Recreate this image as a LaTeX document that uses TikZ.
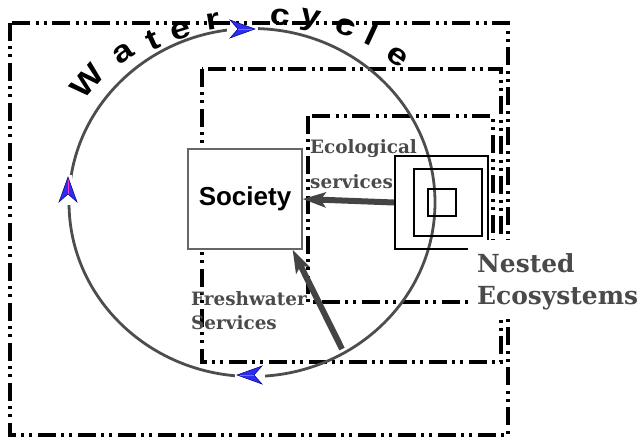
\documentclass[tikz,border=0pt]{standalone}
\usepackage{fontspec}
\usetikzlibrary{arrows.meta}
\newfontfamily\wcfont{Liberation Sans}
\newfontfamily\wcwide{Liberation Sans}[FakeStretch=1.2]
\newfontfamily\lblfont{DejaVu Serif}
\definecolor{lblgray}{HTML}{4A4A4A}
\definecolor{arrgray}{HTML}{444444}
\definecolor{cycgray}{HTML}{4D4D4D}
\definecolor{cycblue}{HTML}{2E2EF0}
\definecolor{cycmag}{HTML}{FF33CC}
\definecolor{boxgray}{HTML}{666666}
\tikzset{
  dashframe/.style={draw=black, line width=3.2pt, dash pattern=on 18pt off 5pt on 3pt off 5pt on 3pt off 6pt},
  wcletter/.style={font=\wcwide\bfseries\fontsize{30}{30}\selectfont, inner sep=0pt},
  lbl/.style={font=\lblfont\bfseries\fontsize{18.4}{24}\selectfont, text=lblgray, inner sep=0pt, align=left},
  bigarrow/.style={line width=6pt, draw=arrgray, -{Stealth[length=23pt,width=15pt,inset=5pt]}},
  sq/.style={draw, line width=2.2pt, inner sep=0pt},
  cyclearrow/.pic={
    \fill[white] (-28pt,-3.5pt) rectangle (2.5pt,3.5pt);
    \filldraw[fill=cycblue, draw=blue!50!black, line width=0.5pt]
      (0,0) -- (-25pt,-9pt) -- (-17pt,0) -- (-25pt,9pt) -- cycle;
    \draw[cycmag, line width=0.8pt] (-17pt,0) -- (-3pt,0);
  }
}
\begin{document}
\begin{tikzpicture}[x=1pt,y=-1pt]
\useasboundingbox (0,0) rectangle (639,441);
% dash-dot frames
\draw[dashframe] (10,23) rectangle (508,435);
\draw[dashframe] (202,69) rectangle (501,362);
\draw[dashframe] (308,116) rectangle (493,302);
% water cycle
\draw[cycgray, line width=2.8pt] (252,202.5) ellipse [x radius=183pt, y radius=174pt];
\pic at (255,29) {cyclearrow};
\pic[rotate=90] at (68,177) {cyclearrow};
\pic[rotate=180] at (237,375) {cyclearrow};
% letters
\node[wcletter, rotate=48] (wc1) at (87,81) {W};
\node[wcletter, rotate=34] (wc2) at (123,53) {a};
\node[wcletter, rotate=25] (wc3) at (153,40) {t};
\node[wcletter, rotate=17] (wc4) at (181,31) {e};
\node[wcletter, rotate=9] (wc5) at (213,21) {r};
\node[wcletter, rotate=-4] (wc6) at (280,17) {c};
\node[wcletter, rotate=-11] (wc7) at (310,21) {y};
\node[wcletter, rotate=-19] (wc8) at (346,27) {c};
\node[wcletter, rotate=-25] (wc9) at (372,35) {l};
\node[wcletter, rotate=-35] (wc10) at (397,57) {e};
% society
\node[draw=boxgray, line width=1.2pt, fill=white, minimum width=114pt, minimum height=100pt,
      inner sep=0pt, font=\wcfont\bfseries\fontsize{26}{26}\selectfont] (soc) at (245,199) {Society};
% nested ecosystems squares
\node[sq, minimum width=93pt, minimum height=93pt] (eco3) at (441.5,202.5) {};
\node[sq, minimum width=68pt, minimum height=67pt] (eco2) at (448,202.5) {};
\node[sq, minimum width=28pt, minimum height=27pt] (eco1) at (442,202.5) {};
% service arrows
\draw[bigarrow] (eco3.west) -- (soc.east);
\coordinate (fwstart) at (342,349);
\draw[bigarrow] (fwstart) -- ([xshift=-10pt]soc.south east);
% labels
\node[lbl, font=\lblfont\bfseries\fontsize{18.4}{35}\selectfont, anchor=north west] (ecolbl) at (310,139) {Ecological\\services};
\node[lbl, anchor=north west] (fwlbl) at (191,291) {Freshwater\\Services};
\node[lbl, font=\lblfont\bfseries\fontsize{24.9}{32}\selectfont, fill=white, inner xsep=9pt, inner ysep=7pt,
      anchor=north west] (nestlbl) at (468,240) {\rule{0pt}{25pt}Nested\\Ecosystems};
\end{tikzpicture}
\end{document}
